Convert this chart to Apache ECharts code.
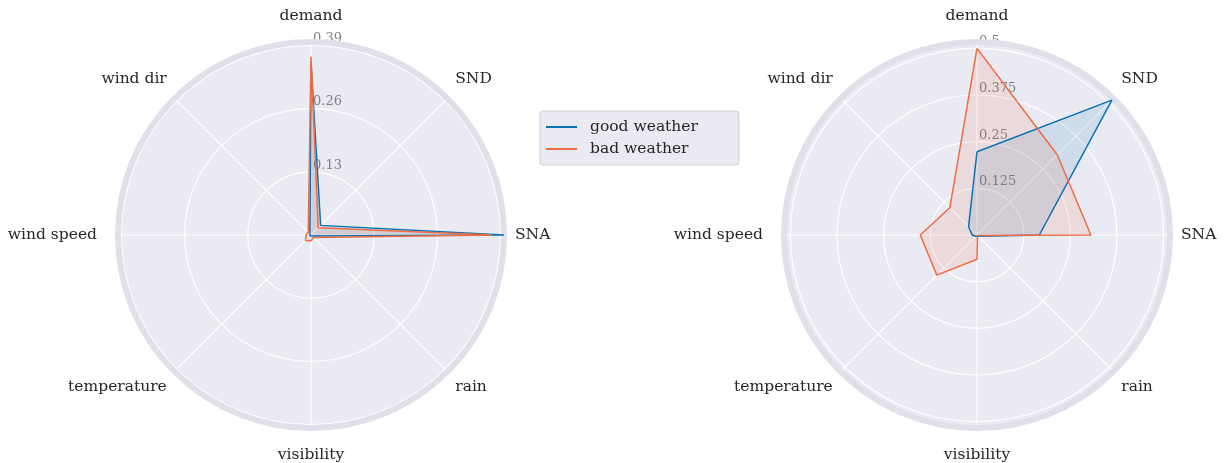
<!DOCTYPE html>
<html>
<head>
<meta charset="utf-8">
<script src="https://cdn.jsdelivr.net/npm/echarts@6/dist/echarts.min.js"></script>
<style>
  html, body { margin: 0; padding: 0; background: #ffffff; }
  #chart { width: 1225px; height: 463px; }
</style>
</head>
<body>
<div id="chart"></div>
<script>
// Spokes, counter-clockwise from the top
const categories = ['demand', 'wind dir', 'wind speed', 'temperature', 'visibility', 'rain', 'SNA', 'SND'];
const seriesNames = ['good weather', 'bad weather'];

// Left panel
const leftGood = [0.355, 0.003, 0.003, 0.003, 0.003, 0.003, 0.397, 0.028];
const leftBad  = [0.367, 0.008, 0.010, 0.016, 0.012, 0.007, 0.372, 0.021];
const leftTicks = [0.13, 0.26, 0.39];
const leftMax = 0.397;

// Right panel
const rightGood = [0.223, 0.032, 0.013, 0.005, 0.005, 0.005, 0.167, 0.511];
const rightBad  = [0.500, 0.103, 0.152, 0.152, 0.065, 0.002, 0.305, 0.304];
const rightTicks = [0.125, 0.25, 0.375, 0.5];
const rightMax = 0.517;

const colors = ['#0a72b2', '#ee6c45'];
const serif = 'DejaVu Serif';
const step = 360 / categories.length;
const bandColor = '#e0e0ea';

// Panel layout
const centers = [[311, 235], [977, 235]];
const R = 193;

// Extra outward spacing for some spoke labels (top, right, bottom, left padding)
const labelPad = {
  'demand':      [0, 0, 7, 0],
  'wind dir':    [0, 0, 4, 0],
  'SND':         [0, 0, 4, 0],
  'wind speed':  [0, 10, 0, 0],
  'visibility':  [8, 0, 0, 0],
  'SNA':         [0, 0, 0, 0],
  'temperature': [0, 0, 0, 0],
  'rain':        [0, 0, 0, 0]
};
const richStyles = {};
categories.forEach((c, i) => {
  richStyles['c' + i] = { padding: labelPad[c], fontFamily: serif, fontSize: 15.5, color: '#262626' };
});

function loop(values) {
  const pts = values.map((v, i) => [v, i * step]);
  pts.push([values[0], 360]);
  return pts;
}

function angleAxis(idx) {
  return {
    polarIndex: idx, type: 'value', min: 0, max: 360, interval: step,
    startAngle: 90, clockwise: false, z: 1,
    axisLine: { show: true, lineStyle: { color: bandColor, width: 6 } },
    axisTick: { show: false },
    axisLabel: {
      margin: 11, color: '#262626', fontFamily: serif, fontSize: 15.5,
      rich: richStyles,
      formatter: v => {
        if (v >= 360) return '';
        const i = Math.round(v / step);
        return '{c' + i + '|' + categories[i] + '}';
      }
    },
    splitLine: { show: true, lineStyle: { color: '#ffffff', width: 1.2 } }
  };
}

function radiusAxis(idx, max, interval, ticks) {
  // rings at 0, each tick, and the outer edge (which takes the band colour)
  const ringColors = ['#ffffff'].concat(ticks.map(() => '#ffffff'), [bandColor]);
  return {
    polarIndex: idx, type: 'value', min: 0, max: max, interval: interval, z: 0,
    axisLine: { show: false }, axisTick: { show: false },
    axisLabel: {
      show: true, color: '#808080', fontFamily: serif, fontSize: 13,
      align: 'left', verticalAlign: 'bottom', margin: -2,
      formatter: v => (ticks.some(t => Math.abs(t - v) < 1e-6) ? String(v) : '')
    },
    splitLine: { show: true, lineStyle: { color: ringColors, width: 1.2 } },
    splitArea: { show: false }
  };
}

function poly(idx, name, values, color) {
  return {
    type: 'line', coordinateSystem: 'polar', polarIndex: idx, name: name,
    data: loop(values), symbol: 'none', z: 3,
    lineStyle: { color: color, width: 1.5 },
    itemStyle: { color: color },
    areaStyle: { color: color, opacity: 0.12 }
  };
}

const chart = echarts.init(document.getElementById('chart'), null, { renderer: 'canvas' });
chart.setOption({
  animation: false,
  backgroundColor: '#ffffff',
  color: colors,
  // Panel background discs
  graphic: centers.map(c => ({
    type: 'circle', z: -10, silent: true,
    shape: { cx: c[0], cy: c[1], r: R },
    style: { fill: '#eaeaf2' }
  })),
  legend: {
    data: seriesNames, orient: 'vertical', left: 540, top: 111,
    backgroundColor: '#eaeaf2', borderColor: '#d0d0d8', borderWidth: 1, borderRadius: 3,
    padding: [8, 41, 8, 6], itemGap: 6, itemWidth: 31, itemHeight: 2, icon: 'rect',
    textStyle: { fontFamily: serif, fontSize: 15.5, color: '#262626', padding: [0, 0, 0, 8] }
  },
  polar: centers.map(c => ({ center: c, radius: R })),
  angleAxis: [angleAxis(0), angleAxis(1)],
  radiusAxis: [
    radiusAxis(0, leftMax, 0.13, leftTicks),
    radiusAxis(1, rightMax, 0.125, rightTicks)
  ],
  series: [
    poly(0, seriesNames[0], leftGood, colors[0]),
    poly(0, seriesNames[1], leftBad, colors[1]),
    poly(1, seriesNames[0], rightGood, colors[0]),
    poly(1, seriesNames[1], rightBad, colors[1])
  ]
});
</script>
</body>
</html>
